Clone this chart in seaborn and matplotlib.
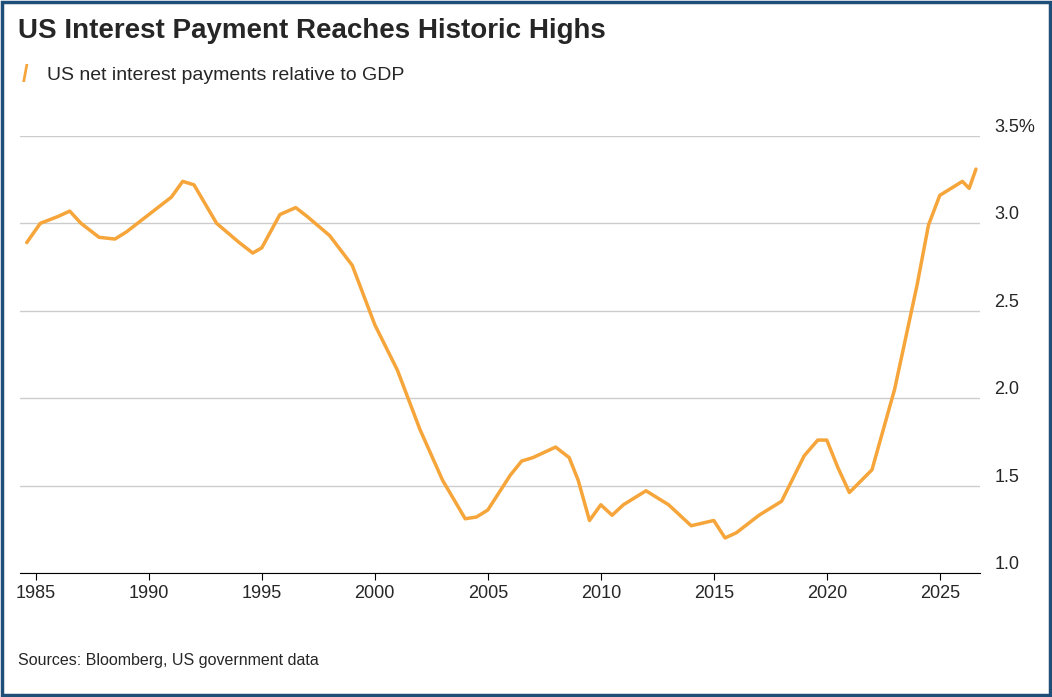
# -*- coding: utf-8 -*-
"""US net interest payments relative to GDP, 1985 to present."""

import pandas as pd
import matplotlib.pyplot as plt
import seaborn as sns

# 1. Values (year, % of GDP)
points = [
    (1984.6, 2.89), (1985.2, 3.00), (1986.0, 3.04), (1986.5, 3.07), (1987.0, 3.00),
    (1987.8, 2.92), (1988.5, 2.91), (1989.0, 2.95), (1990.0, 3.05), (1991.0, 3.15),
    (1991.5, 3.24), (1992.0, 3.22), (1993.0, 3.00), (1994.0, 2.89), (1994.6, 2.83),
    (1995.0, 2.86), (1995.8, 3.05), (1996.5, 3.09), (1997.0, 3.04), (1998.0, 2.93),
    (1999.0, 2.76), (2000.0, 2.42), (2001.0, 2.16), (2002.0, 1.82), (2003.0, 1.53),
    (2004.0, 1.31), (2004.5, 1.32), (2005.0, 1.36), (2006.0, 1.56), (2006.5, 1.64),
    (2007.0, 1.66), (2008.0, 1.72), (2008.6, 1.66), (2009.0, 1.53), (2009.5, 1.30),
    (2010.0, 1.39), (2010.5, 1.33), (2011.0, 1.39), (2012.0, 1.47), (2013.0, 1.39),
    (2014.0, 1.27), (2015.0, 1.30), (2015.5, 1.20), (2016.0, 1.23), (2017.0, 1.33),
    (2018.0, 1.41), (2019.0, 1.67), (2019.6, 1.76), (2020.0, 1.76), (2020.5, 1.60),
    (2021.0, 1.46), (2022.0, 1.59), (2023.0, 2.05), (2024.0, 2.65), (2024.5, 2.99),
    (2025.0, 3.16), (2026.0, 3.24), (2026.3, 3.20), (2026.6, 3.31),
]
df = pd.DataFrame(points, columns=['year', 'pct_gdp'])

# 2. Plot
sns.set_style('white')
plt.rcParams['font.family'] = ['Liberation Sans', 'DejaVu Sans']
fig = plt.figure(figsize=(10.52, 6.97), dpi=100)
ax = fig.add_axes([0.019, 0.178, 0.913, 0.627])

sns.lineplot(data=df, x='year', y='pct_gdp', color='#f6a53a', linewidth=2.5, ax=ax)

ax.set_xlim(1984.3, 2026.8)
ax.set_ylim(1.0, 3.5)
ax.set_xticks(range(1985, 2026, 5))
ax.set_yticks([1.0, 1.5, 2.0, 2.5, 3.0, 3.5])
ax.set_yticklabels(['1.0', '1.5', '2.0', '2.5', '3.0', '3.5%'], va='bottom')  # labels sit above gridlines
ax.yaxis.tick_right()
ax.tick_params(axis='y', length=0, labelsize=13, pad=10)
ax.tick_params(axis='x', length=5, labelsize=13, color='black', direction='out', bottom=True)
ax.grid(axis='y', color='#cccccc', linewidth=1)
ax.set_xlabel('')
ax.set_ylabel('')
for side in ['top', 'left', 'right']:
    ax.spines[side].set_visible(False)
ax.spines['bottom'].set_color('black')

# Formatting: title, legend line, source, frame
fig.text(0.017, 0.955, 'US Interest Payment Reaches Historic Highs', fontsize=20, fontweight='bold', va='center')
fig.text(0.021, 0.892, '/', color='#f6a53a', fontsize=17, fontweight='bold', va='center')
fig.text(0.045, 0.892, 'US net interest payments relative to GDP', fontsize=14, va='center')
fig.text(0.017, 0.052, 'Sources: Bloomberg, US government data', fontsize=11.5, va='center')
fig.patches.append(plt.Rectangle((0.002, 0.003), 0.996, 0.994, transform=fig.transFigure,
                                 fill=False, edgecolor='#1f4e79', linewidth=2.5))

fig.savefig('out.png', dpi=100)
